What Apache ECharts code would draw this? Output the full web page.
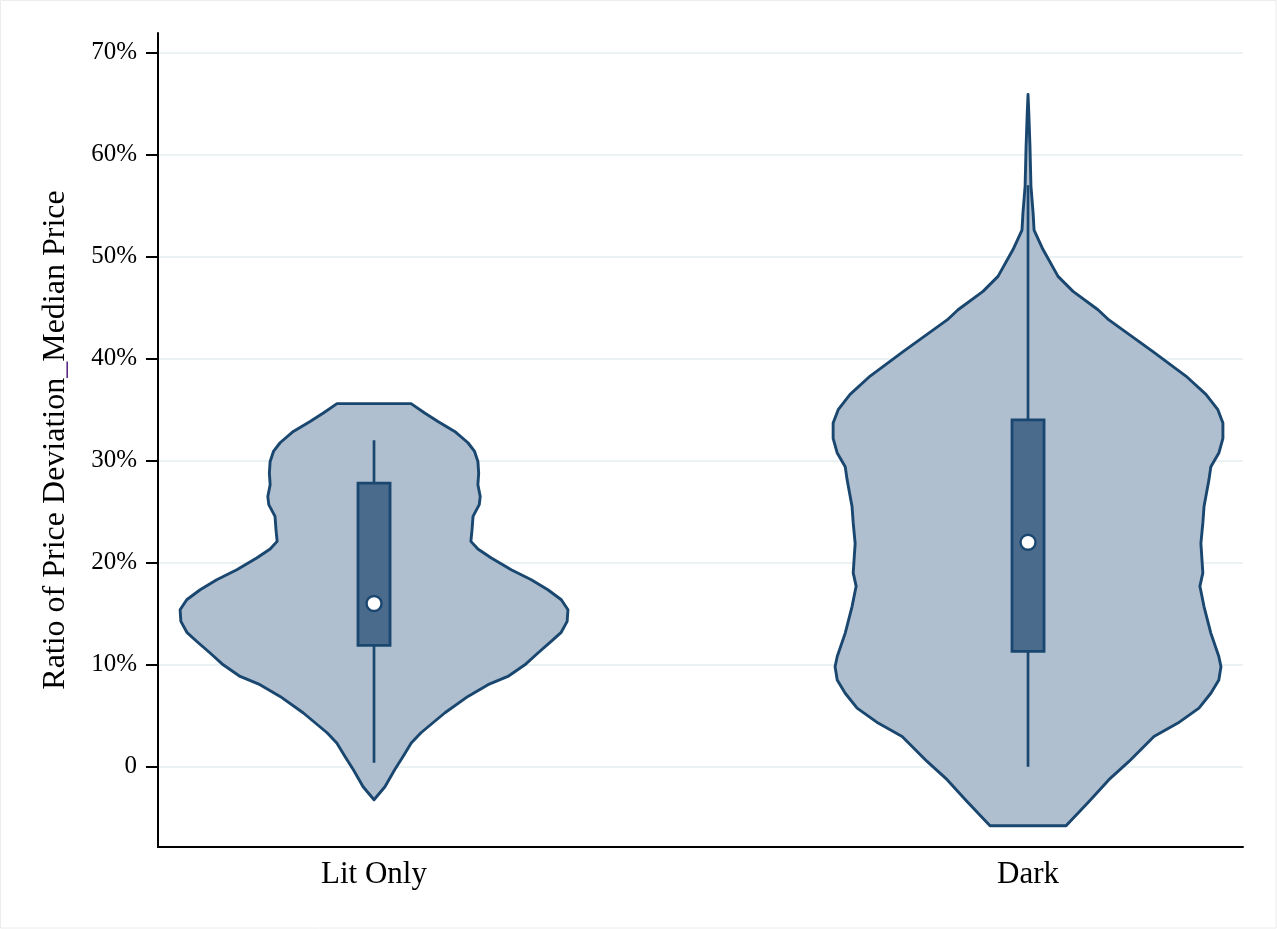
<!DOCTYPE html>
<html>
<head>
<meta charset="utf-8">
<script src="https://cdn.jsdelivr.net/npm/echarts@6/dist/echarts.min.js"></script>
<style>
  html, body { margin: 0; padding: 0; background: #ffffff; }
  #chart { width: 1277px; height: 929px; }
</style>
</head>
<body>
<div id="chart"></div>
<script>
// ---- data ----
const categories = ['Lit Only', 'Dark'];
const yTicks = [0, 10, 20, 30, 40, 50, 60, 70];

// violin outline: value (%) and relative half-width (density, max = 1)
const litValues = [35.6, 34.68, 33.85, 32.87, 31.76, 30.91, 29.93, 28.79, 27.65, 26.5, 25.7, 24.54, 23.24, 22.09, 21.34, 20.46, 19.31, 18.33, 17.35, 16.37, 15.39, 14.25, 13.14, 12.28, 11.15, 9.99, 8.85, 8.04, 6.89, 5.29, 3.33, 2.32, 1.01, -0.29, -1.96, -3.24];
const litWidths = [0.19, 0.26, 0.328, 0.414, 0.482, 0.516, 0.533, 0.537, 0.533, 0.545, 0.54, 0.508, 0.503, 0.497, 0.533, 0.602, 0.704, 0.807, 0.892, 0.961, 0.995, 0.991, 0.959, 0.909, 0.841, 0.774, 0.687, 0.585, 0.482, 0.364, 0.241, 0.191, 0.149, 0.106, 0.056, 0];

const darkValues = [65.9, 64.1, 60.8, 56.9, 54.3, 52.6, 50.7, 48.07, 46.6, 44.8, 43.8, 40.7, 38.3, 36.5, 35.0, 33.7, 32.2, 30.75, 29.4, 28.1, 25.5, 23.9, 21.9, 19.0, 17.7, 15.7, 13.1, 10.8, 9.8, 8.5, 7.2, 5.75, 4.28, 2.97, 0.52, -1.27, -3.4, -5.78];
const darkWidths = [0, 0.004, 0.01, 0.015, 0.026, 0.031, 0.077, 0.154, 0.231, 0.359, 0.415, 0.641, 0.810, 0.913, 0.974, 1.0, 1.0, 0.979, 0.938, 0.928, 0.903, 0.897, 0.887, 0.897, 0.882, 0.903, 0.938, 0.979, 0.990, 0.979, 0.938, 0.877, 0.769, 0.646, 0.518, 0.415, 0.313, 0.195];

// box summaries: [lower whisker, q1, median, q3, upper whisker]
const litBox = [0.4, 11.9, 16.0, 27.8, 32.0];
const darkBox = [0.0, 11.3, 22.0, 34.0, 57.0];

const groups = [
  { values: litValues, widths: litWidths, box: litBox },
  { values: darkValues, widths: darkWidths, box: darkBox }
];

// ---- styles ----
const FONT = '"Liberation Serif", "Times New Roman", serif';
const STROKE = '#1a476f';
const VFILL = '#afbfcf';
const BFILL = '#4a6b8c';
const MAXHALF = 0.298;  // x-units for the widest point of a violin
const BOXHALF = 0.0245;

const chart = echarts.init(document.getElementById('chart'), null, { renderer: 'canvas' });

function renderItem(params, api) {
  const gi = api.value(0);
  const g = groups[gi];
  const cx = gi + 1;
  const left = [], right = [];
  for (let i = 0; i < g.values.length; i++) {
    const w = g.widths[i] * MAXHALF;
    left.push(api.coord([cx - w, g.values[i]]));
  }
  for (let i = g.values.length - 1; i >= 0; i--) {
    const w = g.widths[i] * MAXHALF;
    right.push(api.coord([cx + w, g.values[i]]));
  }
  const pts = left.concat(right);
  const b = g.box;
  const wLo = api.coord([cx, b[0]]);
  const q1 = api.coord([cx - BOXHALF, b[1]]);
  const med = api.coord([cx, b[2]]);
  const q3 = api.coord([cx + BOXHALF, b[3]]);
  const wHi = api.coord([cx, b[4]]);
  return {
    type: 'group',
    children: [
      { type: 'polygon', shape: { points: pts },
        style: { fill: VFILL, stroke: STROKE, lineWidth: 2.9, lineJoin: 'round' } },
      { type: 'line', shape: { x1: wLo[0], y1: wLo[1], x2: wHi[0], y2: wHi[1] },
        style: { stroke: STROKE, lineWidth: 2.7 } },
      { type: 'rect', shape: { x: q1[0], y: q3[1], width: q3[0] - q1[0], height: q1[1] - q3[1] },
        style: { fill: BFILL, stroke: STROKE, lineWidth: 2.8 } },
      { type: 'circle', shape: { cx: med[0], cy: med[1], r: 7.5 },
        style: { fill: '#ffffff', stroke: STROKE, lineWidth: 2.4 } }
    ]
  };
}

const option = {
  backgroundColor: '#ffffff',
  animation: false,
  graphic: [{
    type: 'rect', silent: true, z: -10,
    shape: { x: 0.5, y: 0.5, width: 1275.5, height: 927.5 },
    style: { fill: 'none', stroke: '#ececec', lineWidth: 1 }
  }],
  grid: { left: 158, right: 34, top: 33, bottom: 82, containLabel: false },
  xAxis: {
    type: 'value',
    min: 0.6697,
    max: 2.3287,
    axisLine: { show: true, onZero: false, lineStyle: { color: '#000000', width: 2 } },
    axisTick: { show: false },
    splitLine: { show: false },
    axisLabel: {
      customValues: [1, 2],
      formatter: v => categories[Math.round(v) - 1],
      fontFamily: FONT, fontSize: 31, color: '#000000', margin: 12
    }
  },
  yAxis: {
    type: 'value',
    min: -7.87,
    max: 71.93,
    name: 'Ratio of Price Deviation{u|_}Median Price',
    nameLocation: 'middle',
    nameGap: 86,
    nameTextStyle: {
      fontFamily: FONT, fontSize: 32, color: '#000000',
      rich: { u: { fontFamily: FONT, fontSize: 32, color: '#5b2a86' } }
    },
    axisLine: { show: true, onZero: false, lineStyle: { color: '#000000', width: 2 } },
    axisTick: { show: true, customValues: yTicks, length: 12, lineStyle: { color: '#000000', width: 2 } },
    axisLabel: {
      customValues: yTicks,
      formatter: v => (v === 0 ? '0' : v + '%'),
      fontFamily: FONT, fontSize: 25, color: '#000000', margin: 21
    },
    splitLine: { show: true, lineStyle: { color: '#eaf2f3', width: 2 } }
  },
  series: [{
    type: 'custom',
    renderItem: renderItem,
    clip: false,
    data: [[0], [1]],
    encode: { x: -1, y: -1 }
  }]
};
chart.setOption(option);
</script>
</body>
</html>
